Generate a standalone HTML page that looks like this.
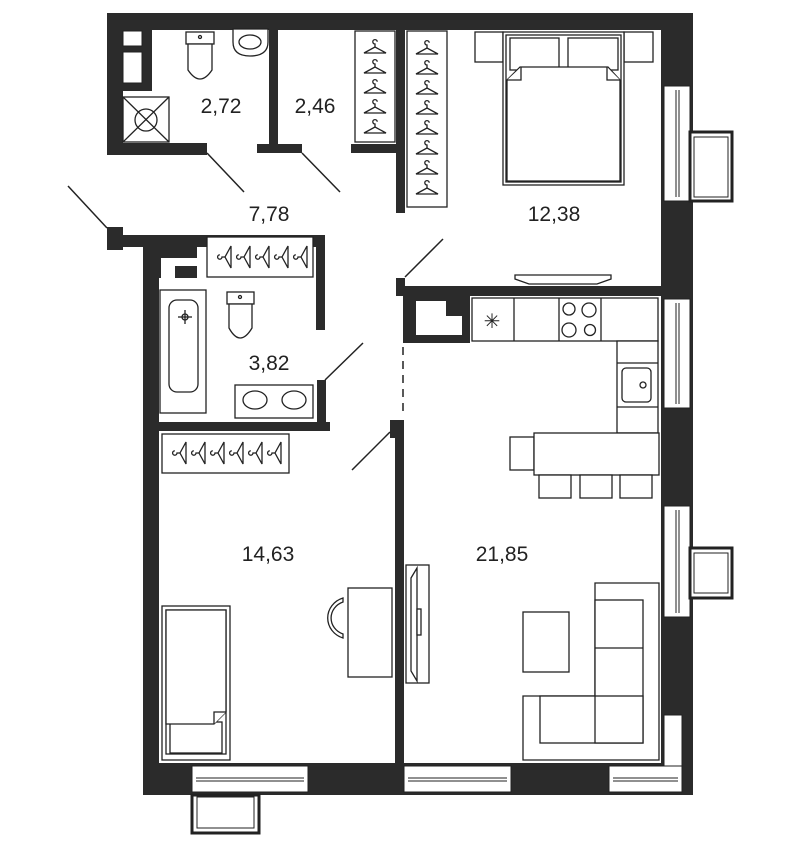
<!DOCTYPE html>
<html><head><meta charset="utf-8"><style>
html,body{margin:0;padding:0;background:#fff;}
svg{display:block;}
text{font-family:"Liberation Sans",sans-serif;font-size:21px;fill:#222;text-anchor:middle;}
</style></head><body>
<svg width="800" height="847" viewBox="0 0 800 847" xmlns="http://www.w3.org/2000/svg">
<defs>
<g id="h" fill="none" stroke="#222" stroke-width="1.3">
<path d="M-11,6 L0,0 L11,6 Z"/><path d="M0,0 L0,-3 a2.2,2.2 0 1 1 2.2,-2.2"/>
</g>
<g id="hs" transform="rotate(-90)"><use href="#h"/></g>
</defs>
<g fill="#2b2b2b">
<rect x="107" y="13" width="586" height="17"/>
<rect x="661" y="13" width="32" height="782"/>
<rect x="107" y="13" width="16" height="142"/>
<rect x="107" y="29" width="45" height="62"/>
<rect x="107" y="143" width="100" height="12"/>
<rect x="269" y="29" width="9" height="116"/>
<rect x="257" y="144" width="45" height="9"/>
<rect x="351" y="144" width="46" height="9"/>
<rect x="396" y="29" width="9" height="184"/>
<rect x="396" y="286" width="265" height="10"/>
<rect x="396" y="278" width="9" height="18"/>
<rect x="403" y="296" width="67" height="47"/>
<rect x="107" y="227" width="16" height="23"/>
<rect x="107" y="235" width="216" height="12"/>
<rect x="143" y="235" width="16" height="560"/>
<rect x="159" y="247" width="38" height="31"/>
<rect x="316" y="235" width="9" height="95"/>
<rect x="317" y="380" width="9" height="50"/>
<rect x="143" y="422" width="187" height="9"/>
<rect x="390" y="420" width="14" height="18"/>
<rect x="395" y="420" width="9" height="345"/>
<rect x="143" y="763" width="550" height="32"/>
</g>
<g fill="#fff" stroke="#222" stroke-width="1">
<rect x="123" y="31" width="19" height="15"/>
<rect x="123" y="52" width="19" height="31"/>
<rect x="161" y="258" width="14" height="20" stroke="none"/>
<rect x="175" y="258" width="22" height="8" stroke="none"/>
<rect x="416" y="301" width="30" height="34" stroke="none"/>
<rect x="446" y="316" width="16" height="19" stroke="none"/>
</g>
<g fill="#fff" stroke="#222" stroke-width="1">
<rect x="664" y="86" width="26" height="115"/><line x1="676" y1="90" x2="676" y2="197"/><line x1="679" y1="90" x2="679" y2="197"/>
<rect x="690" y="132" width="42" height="69" stroke-width="3"/><rect x="694" y="137" width="34" height="60"/>
<rect x="664" y="299" width="26" height="109"/><line x1="676" y1="303" x2="676" y2="404"/><line x1="679" y1="303" x2="679" y2="404"/>
<rect x="664" y="506" width="26" height="111"/><line x1="676" y1="510" x2="676" y2="613"/><line x1="679" y1="510" x2="679" y2="613"/>
<rect x="690" y="548" width="42" height="50" stroke-width="3"/><rect x="694" y="553" width="34" height="40"/>
<rect x="664" y="715" width="18" height="67"/>
<rect x="192" y="766" width="116" height="26"/><line x1="196" y1="778" x2="304" y2="778"/><line x1="196" y1="781" x2="304" y2="781"/>
<rect x="192" y="795" width="67" height="38" stroke-width="3"/><rect x="197" y="797" width="57" height="31"/>
<rect x="404" y="766" width="107" height="26"/><line x1="408" y1="778" x2="507" y2="778"/><line x1="408" y1="781" x2="507" y2="781"/>
<rect x="609" y="766" width="73" height="26"/><line x1="613" y1="778" x2="678" y2="778"/><line x1="613" y1="781" x2="678" y2="781"/>
</g>
<g stroke="#222" stroke-width="1.5" fill="none">
<line x1="207" y1="153" x2="244" y2="192"/>
<line x1="302" y1="153" x2="340" y2="192"/>
<line x1="405" y1="277" x2="443" y2="239"/>
<line x1="68" y1="186" x2="107" y2="228"/>
<line x1="325" y1="380" x2="363" y2="343"/>
<line x1="390" y1="432" x2="352" y2="470"/>
<line x1="403" y1="347" x2="403" y2="417" stroke-dasharray="8,6"/>
</g>
<g fill="#fff" stroke="#222" stroke-width="1.3">
<rect x="123" y="97" width="46" height="45"/><line x1="123" y1="97" x2="169" y2="142"/><line x1="169" y1="97" x2="123" y2="142"/><circle cx="146" cy="120" r="11" fill="none"/>
<rect x="186" y="32" width="28" height="12"/><path d="M188,44 L212,44 L212,70 Q200,88 188,70 Z"/><circle cx="200" cy="37" r="1.5"/>
<path d="M233,29 L268,29 L268,42 Q268,56 250,56 Q233,56 233,42 Z"/><ellipse cx="250" cy="42" rx="11" ry="7"/>
<rect x="355" y="31" width="40" height="111"/>
<rect x="407" y="31" width="40" height="176"/>
<rect x="207" y="237" width="106" height="40"/>
<rect x="162" y="434" width="127" height="39"/>
<rect x="475" y="32" width="28" height="30"/><rect x="624" y="32" width="29" height="30"/>
<rect x="503" y="32" width="121" height="153"/><rect x="506" y="35" width="115" height="147"/>
<rect x="510" y="38" width="49" height="32"/><rect x="568" y="38" width="50" height="32"/>
<path d="M507,80 L520,67 L608,67 L620,80 L620,181 L507,181 Z"/>
<path d="M507,80 L521,80 L521,67"/><path d="M620,80 L607,80 L607,67"/>
<path d="M515,275 L611,275 L611,279 L597,284 L529,284 L515,279 Z"/>
<rect x="160" y="290" width="46" height="123"/><rect x="169" y="300" width="29" height="92" rx="8"/>
<rect x="227" y="292" width="27" height="12"/><path d="M229,304 L252,304 L252,328 Q240,348 229,328 Z"/><circle cx="240" cy="297" r="1.5"/>
<rect x="235" y="385" width="78" height="33"/><ellipse cx="255" cy="400" rx="12" ry="9"/><ellipse cx="294" cy="400" rx="12" ry="9"/>
<rect x="472" y="298" width="186" height="43"/><line x1="514" y1="298" x2="514" y2="341"/><line x1="559" y1="298" x2="559" y2="341"/><line x1="601" y1="298" x2="601" y2="341"/>
<rect x="617" y="341" width="41" height="92"/><line x1="617" y1="363" x2="658" y2="363"/><line x1="617" y1="407" x2="658" y2="407"/>
<rect x="622" y="368" width="29" height="34" rx="4"/><circle cx="643" cy="385" r="3"/>
<circle cx="569" cy="309" r="6"/><circle cx="589" cy="310" r="7"/><circle cx="569" cy="330" r="7"/><circle cx="590" cy="330" r="5.5"/>
<rect x="510" y="437" width="24" height="33"/><rect x="534" y="433" width="125" height="42"/>
<rect x="539" y="475" width="32" height="23"/><rect x="580" y="475" width="32" height="23"/><rect x="620" y="475" width="32" height="23"/>
<rect x="162" y="606" width="68" height="154"/><rect x="166" y="610" width="60" height="144"/>
<rect x="170" y="722" width="52" height="31"/>
<path d="M166,610 L226,610 L226,712 L214,724 L166,724 Z"/><path d="M214,724 L214,712 L226,712"/>
<rect x="348" y="588" width="44" height="89"/>
<path d="M343,598 A22,21 0 0 0 343,638 L343,634 A18,17 0 0 1 343,602 Z"/>
<rect x="406" y="565" width="23" height="118"/><path d="M411,578 L417,568 L417,681 L411,671 Z"/><rect x="417" y="609" width="4" height="26"/>
<rect x="523" y="612" width="46" height="60"/>
<path d="M595,583 L659,583 L659,760 L523,760 L523,696 L595,696 Z"/>
<rect x="595" y="600" width="48" height="143"/>
<rect x="540" y="696" width="103" height="47"/>
<line x1="595" y1="648" x2="643" y2="648"/><line x1="595" y1="696" x2="595" y2="743"/>
</g>
<g stroke="#222" stroke-width="1.3" fill="none">
<circle cx="185" cy="317" r="3"/><line x1="185" y1="310" x2="185" y2="324"/><line x1="178" y1="317" x2="192" y2="317"/>
</g>
<text x="492" y="328" style="font-size:20px">✳</text>
<g>
<use href="#h" x="375" y="47"/><use href="#h" x="375" y="67"/><use href="#h" x="375" y="87"/><use href="#h" x="375" y="107"/><use href="#h" x="375" y="127"/>
<use href="#h" x="427" y="48"/><use href="#h" x="427" y="68"/><use href="#h" x="427" y="88"/><use href="#h" x="427" y="108"/><use href="#h" x="427" y="128"/><use href="#h" x="427" y="148"/><use href="#h" x="427" y="168"/><use href="#h" x="427" y="188"/>
<use href="#hs" x="225" y="257"/><use href="#hs" x="244" y="257"/><use href="#hs" x="263" y="257"/><use href="#hs" x="282" y="257"/><use href="#hs" x="301" y="257"/>
<use href="#hs" x="180" y="453"/><use href="#hs" x="199" y="453"/><use href="#hs" x="218" y="453"/><use href="#hs" x="237" y="453"/><use href="#hs" x="256" y="453"/><use href="#hs" x="275" y="453"/>
</g>
<text x="221" y="113">2,72</text>
<text x="315" y="113">2,46</text>
<text x="269" y="221">7,78</text>
<text x="554" y="221">12,38</text>
<text x="269" y="370">3,82</text>
<text x="268" y="561">14,63</text>
<text x="502" y="561">21,85</text>
</svg>
</body></html>
